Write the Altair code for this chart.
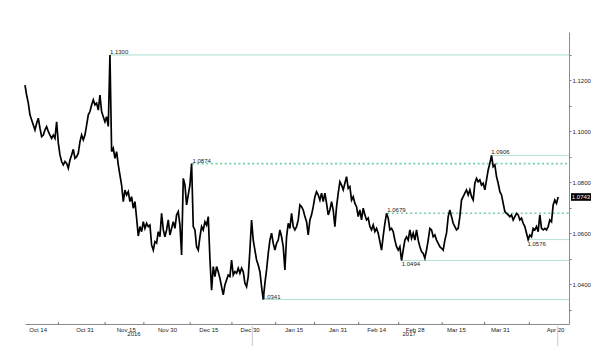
import altair as alt
import pandas as pd

FONT = "Liberation Sans"

# sampling of the EUR/USD trace (one reading every 872 minutes)
START = "2016-10-09 09:00"
STEP = "872min"

oct_nov = [
    1.1182, 1.1143, 1.1111, 1.1065, 1.1045, 1.1025, 1.1006, 1.1032, 1.1052, 1.1013,
    1.0980, 1.0986, 1.1006, 1.1019, 1.1000, 1.0986, 1.0973, 1.0986, 1.0973, 1.1038,
    1.0955, 1.0908, 1.0882, 1.0869, 1.0882, 1.0875, 1.0856, 1.0888, 1.0908, 1.0930,
    1.0895, 1.0901, 1.0915, 1.0960, 1.0986, 1.0967, 1.0986, 1.1025, 1.1065, 1.1078,
    1.1104, 1.1124, 1.1104, 1.1111, 1.1084, 1.1143, 1.1078, 1.1058, 1.1038, 1.1058,
    1.1020, 1.1300,
]
nov_dec = [
    1.0921, 1.0934, 1.0895, 1.0921, 1.0869, 1.0829, 1.0790, 1.0725, 1.0770, 1.0751,
    1.0764, 1.0725, 1.0744, 1.0699, 1.0725, 1.0660, 1.0590, 1.0627, 1.0607, 1.0646,
    1.0620, 1.0640, 1.0627, 1.0633, 1.0555, 1.0535, 1.0568, 1.0562, 1.0607, 1.0587,
    1.0679, 1.0615, 1.0587, 1.0614, 1.0653, 1.0594, 1.0620, 1.0646, 1.0620, 1.0673,
    1.0686, 1.0633, 1.0516, 1.0816, 1.0790, 1.0712, 1.0751, 1.0790, 1.0874,
]
dec_jan = [
    1.0627, 1.0614, 1.0548, 1.0535, 1.0587, 1.0627, 1.0614, 1.0646, 1.0633, 1.0666,
    1.0500, 1.0378, 1.0470, 1.0431, 1.0470, 1.0450, 1.0424, 1.0391, 1.0359, 1.0398,
    1.0418, 1.0437, 1.0431, 1.0496, 1.0437, 1.0450, 1.0444, 1.0464, 1.0444, 1.0464,
    1.0450, 1.0405, 1.0391, 1.0431, 1.0535, 1.0653, 1.0574, 1.0535, 1.0496, 1.0476,
    1.0450, 1.0391, 1.0341, 1.0405, 1.0457, 1.0522, 1.0574, 1.0601, 1.0561, 1.0535,
    1.0561, 1.0574, 1.0614, 1.0587, 1.0548, 1.0457, 1.0587, 1.0640, 1.0620,
]
jan_feb = [
    1.0679, 1.0627, 1.0614, 1.0627, 1.0653, 1.0712, 1.0705, 1.0692, 1.0666, 1.0646,
    1.0594, 1.0653, 1.0673, 1.0705, 1.0744, 1.0764, 1.0751, 1.0731, 1.0758, 1.0725,
    1.0758, 1.0718, 1.0673, 1.0692, 1.0725, 1.0692, 1.0627, 1.0705, 1.0758, 1.0803,
    1.0790, 1.0771, 1.0797, 1.0823, 1.0777, 1.0784, 1.0731, 1.0744, 1.0718, 1.0705,
    1.0666, 1.0692, 1.0653, 1.0699, 1.0673, 1.0653, 1.0660, 1.0627, 1.0614, 1.0633,
    1.0607, 1.0620, 1.0601, 1.0568,
]
feb_mar = [
    1.0535, 1.0590, 1.0640, 1.0679, 1.0660, 1.0614, 1.0620, 1.0607, 1.0574, 1.0548,
    1.0535, 1.0548, 1.0494, 1.0535, 1.0574, 1.0587, 1.0574, 1.0614, 1.0581, 1.0601,
    1.0574, 1.0614, 1.0574, 1.0548, 1.0529, 1.0522, 1.0503, 1.0535, 1.0574, 1.0620,
    1.0614, 1.0587, 1.0594, 1.0574, 1.0561, 1.0548, 1.0542, 1.0535, 1.0574, 1.0601,
    1.0666, 1.0692, 1.0666, 1.0640, 1.0627, 1.0614, 1.0620, 1.0666,
]
mar_apr = [
    1.0731, 1.0744, 1.0758, 1.0771, 1.0751, 1.0771, 1.0744, 1.0731, 1.0797, 1.0816,
    1.0803, 1.0810, 1.0790, 1.0797, 1.0771, 1.0810, 1.0849, 1.0875, 1.0906, 1.0862,
    1.0869, 1.0823, 1.0797, 1.0764, 1.0751, 1.0718, 1.0686, 1.0679, 1.0673, 1.0666,
    1.0673, 1.0653, 1.0666, 1.0679, 1.0673, 1.0653, 1.0660, 1.0640, 1.0627, 1.0601,
    1.0576, 1.0594, 1.0587, 1.0620, 1.0614, 1.0627, 1.0607, 1.0673, 1.0620, 1.0614,
    1.0620, 1.0614, 1.0627, 1.0653, 1.0646, 1.0712, 1.0731, 1.0718, 1.0743,
]

prices = oct_nov + nov_dec + dec_jan + jan_feb + feb_mar + mar_apr
dates = pd.date_range(START, periods=len(prices), freq=STEP)
df = pd.DataFrame({"date": dates, "price": prices})

# annotated highs / lows
ann_labels = ["1.1300", "1.0874", "1.0906", "1.0679", "1.0494", "1.0576", "1.0341"]
ann_values = [1.1300, 1.0874, 1.0906, 1.0679, 1.0494, 1.0576, 1.0341]
ann_dates = ["2016-11-09T06:00:00", "2016-12-09T06:00:00", "2017-03-27T20:00:00",
             "2017-02-18T01:00:00", "2017-02-23T07:00:00", "2017-04-10T00:00:00",
             "2017-01-03T14:00:00"]
ann_style = ["solid", "dotted", "solid", "dotted", "solid", "solid", "solid"]
ann_side = ["above", "above", "above", "above", "below", "below", "above"]
END_DATE = "2017-04-25T02:10:00"

ann = pd.DataFrame({"label": ann_labels, "value": ann_values, "date": ann_dates,
                    "end": END_DATE, "style": ann_style, "side": ann_side})

# axis ticks
tick_dates = [(2016, 10, 14), (2016, 10, 31), (2016, 11, 15), (2016, 11, 30),
              (2016, 12, 15), (2016, 12, 30), (2017, 1, 15), (2017, 1, 31),
              (2017, 2, 14), (2017, 2, 28), (2017, 3, 15), (2017, 3, 31), (2017, 4, 20)]
minor_tick_dates = ["2016-10-21T12:00:00", "2016-11-07T12:00:00", "2016-11-21T14:00:00",
                    "2016-12-08T10:00:00", "2016-12-23T14:00:00", "2017-01-08T12:00:00",
                    "2017-01-22T14:00:00", "2017-02-07T16:00:00", "2017-02-22T05:00:00",
                    "2017-03-10T00:00:00", "2017-03-25T10:00:00", "2017-04-10T16:00:00"]
y_ticks = [1.03, 1.04, 1.05, 1.06, 1.07, 1.08, 1.09, 1.10, 1.11, 1.12, 1.13]

years = ["2016", "2017"]
year_dates = ["2016-11-18T00:00:00", "2017-02-26T00:00:00"]
years_df = pd.DataFrame({"year": years, "date": year_dates})

sep_dates = ["2016-12-31T00:00:00", "2017-04-21T00:00:00"]
sep_df = pd.DataFrame({"date": sep_dates})
minor_df = pd.DataFrame({"date": minor_tick_dates})

last_df = pd.DataFrame({"price": [prices[-1]], "label": [f"{prices[-1]:.4f}"]})

x_scale = alt.Scale(domain=[alt.DateTime(year=2016, month=10, date=9, hours=9, minutes=14),
                            alt.DateTime(year=2017, month=4, date=25, hours=2, minutes=10)])
y_scale = alt.Scale(domain=[1.0245, 1.139], zero=False, nice=False)

x_axis = alt.Axis(values=[alt.DateTime(year=a, month=b, date=c) for a, b, c in tick_dates],
                  format="%b %d", title=None, grid=False, labelFont=FONT, labelFontSize=6,
                  labelColor="#222", domainColor="#8c8c8c", ticks=False,
                  labelPadding=2, labelOverlap=False, labelFlush=False)
y_axis = alt.Axis(orient="right", values=y_ticks, title=None, grid=False,
                  labelExpr="(round(datum.value*100) % 2 == 0) ? format(datum.value, '.4f') : ''",
                  labelFont=FONT, labelFontSize=6, labelColor="#222", domainColor="#8c8c8c",
                  tickColor="#777", tickSize=2, labelPadding=1)


def X(field):
    return alt.X(f"{field}:T", scale=x_scale, axis=x_axis)


def Y(field):
    return alt.Y(f"{field}:Q", scale=y_scale, axis=y_axis)


rules = alt.Chart(ann).mark_rule().encode(
    x=X("date"), x2="end:T", y=Y("value"),
    color=alt.Color("style:N", scale=alt.Scale(domain=["solid", "dotted"],
                                               range=["#a3dcc8", "#6fcfa5"]), legend=None),
    strokeDash=alt.StrokeDash("style:N", scale=alt.Scale(domain=["solid", "dotted"],
                                                         range=[[1, 0], [2, 2.6]]), legend=None),
    strokeWidth=alt.StrokeWidth("style:N", scale=alt.Scale(domain=["solid", "dotted"],
                                                           range=[1, 1.6]), legend=None),
)

line = alt.Chart(df).mark_line(color="black", strokeWidth=1.7).encode(x=X("date"), y=Y("price"))

txt_above = alt.Chart(ann).transform_filter("datum.side == 'above'").mark_text(
    align="left", baseline="bottom", font=FONT, fontSize=6, color="#222", dy=0
).encode(x=X("date"), y=Y("value"), text="label:N")

txt_below = alt.Chart(ann).transform_filter("datum.side == 'below'").mark_text(
    align="left", baseline="top", font=FONT, fontSize=6, color="#222", dy=1
).encode(x=X("date"), y=Y("value"), text="label:N")

year_txt = alt.Chart(years_df).mark_text(
    align="center", baseline="middle", font=FONT, fontSize=6, color="#222"
).encode(x=X("date"), y=alt.value(302), text="year:N")

seps = alt.Chart(sep_df).mark_rule(color="#c8c8c8", strokeWidth=1).encode(
    x=X("date"), y=alt.value(294), y2=alt.value(314))

minor = alt.Chart(minor_df).mark_rule(color="#777", strokeWidth=1).encode(
    x=X("date"), y=alt.value(290), y2=alt.value(293))

box = alt.Chart(last_df).mark_point(
    shape="M-1,-0.38L1,-0.38L1,0.38L-1,0.38Z", size=400, filled=True, color="black", opacity=1
).encode(x=alt.value(556), y=Y("price"))

box_txt = alt.Chart(last_df).mark_text(
    align="center", baseline="middle", font=FONT, fontSize=6, color="white"
).encode(x=alt.value(556), y=Y("price"), text="label:N")

chart = alt.layer(rules, line, txt_above, txt_below, year_txt, seps, minor, box, box_txt).properties(
    width=544, height=292,
    autosize=alt.AutoSizeParams(type="none"),
    padding={"left": 25, "top": 32, "right": 31, "bottom": 32},
    background="white",
).configure_view(stroke=None)

chart.save("out.html", embed_options={"renderer": "svg", "actions": False})
